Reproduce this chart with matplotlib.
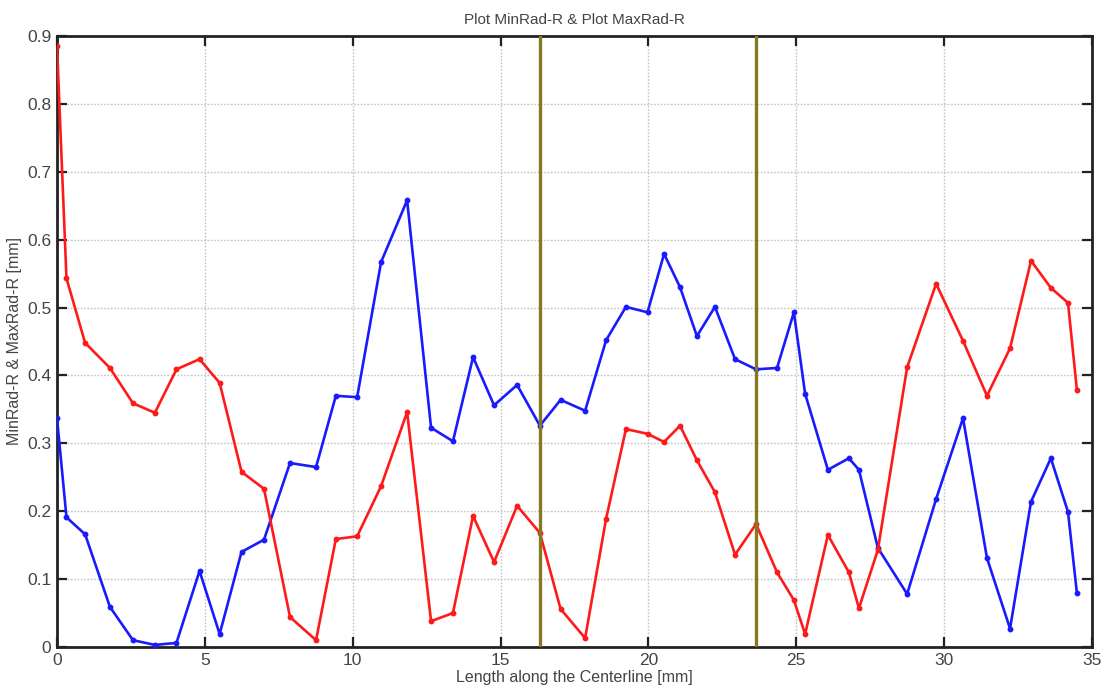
import matplotlib
matplotlib.use("Agg")
import matplotlib.pyplot as plt

plt.rcParams['font.family'] = ['Liberation Sans', 'DejaVu Sans']

# Position along the centerline [mm]
length_mm = [0.00, 0.32, 0.95, 1.79, 2.57, 3.31, 4.04, 4.82, 5.50, 6.24,
             7.00, 7.88, 8.76, 9.43, 10.15, 10.96, 11.84, 12.65, 13.39, 14.07,
             14.78, 15.56, 16.33, 17.03, 17.86, 18.57, 19.24, 19.97, 20.53, 21.07,
             21.64, 22.25, 22.93, 23.64, 24.35, 24.92, 25.30, 26.07, 26.78, 27.12,
             27.76, 28.75, 29.73, 30.64, 31.45, 32.23, 32.94, 33.61, 34.19, 34.49]

# Maximum radius (red)
max_rad = [0.885, 0.543, 0.448, 0.411, 0.359, 0.345, 0.409, 0.424, 0.389, 0.258,
           0.233, 0.044, 0.010, 0.159, 0.163, 0.237, 0.346, 0.038, 0.050, 0.193,
           0.125, 0.208, 0.168, 0.056, 0.013, 0.189, 0.321, 0.314, 0.302, 0.326,
           0.275, 0.228, 0.136, 0.181, 0.110, 0.069, 0.019, 0.165, 0.110, 0.057,
           0.143, 0.412, 0.535, 0.451, 0.370, 0.440, 0.569, 0.529, 0.507, 0.379]

# Minimum radius (blue)
min_rad = [0.337, 0.191, 0.166, 0.059, 0.010, 0.003, 0.006, 0.112, 0.019, 0.140,
           0.158, 0.271, 0.265, 0.370, 0.368, 0.567, 0.658, 0.323, 0.303, 0.427,
           0.356, 0.386, 0.326, 0.364, 0.348, 0.452, 0.501, 0.493, 0.579, 0.530,
           0.458, 0.501, 0.424, 0.409, 0.411, 0.493, 0.373, 0.261, 0.278, 0.261,
           0.146, 0.078, 0.218, 0.337, 0.131, 0.027, 0.214, 0.278, 0.199, 0.080]

# Section boundaries [mm]
boundaries = [16.33, 23.64]

x_ticks = [0, 5, 10, 15, 20, 25, 30, 35]
y_ticks = [0, 0.1, 0.2, 0.3, 0.4, 0.5, 0.6, 0.7, 0.8, 0.9]
y_tick_labels = ['0', '0.1', '0.2', '0.3', '0.4', '0.5', '0.6', '0.7', '0.8', '0.9']

text_color = '#444444'

fig = plt.figure(figsize=(11.07, 6.98), dpi=100)
ax = fig.add_axes([0.0515, 0.0731, 0.9349, 0.8753])

ax.plot(length_mm, min_rad, color='#1a1aff', lw=1.9, marker='o', ms=3.2, zorder=3)
ax.plot(length_mm, max_rad, color='#ff1a1a', lw=1.9, marker='o', ms=3.2, zorder=3)

for b in boundaries:
    ax.axvline(b, color='#857a1f', lw=2.4, zorder=4)

ax.set_xlim(0, 35)
ax.set_ylim(0, 0.9)
ax.set_xticks(x_ticks)
ax.set_yticks(y_ticks)
ax.set_yticklabels(y_tick_labels)

ax.grid(True, color='#c4c4c4', ls=(0, (1.2, 1.2)), lw=1.0)
ax.set_axisbelow(True)
ax.tick_params(direction='in', length=7, width=1.6, top=True, right=True,
               labelsize=12.5, labelcolor=text_color, color='#222222', pad=4)
for s in ax.spines.values():
    s.set_linewidth(2.0)
    s.set_color('#222222')

ax.set_title('Plot MinRad-R & Plot MaxRad-R', fontsize=11, color=text_color, pad=9)
ax.set_xlabel('Length along the Centerline [mm]', fontsize=11.5, color=text_color, labelpad=2)
ax.set_ylabel('MinRad-R & MaxRad-R [mm]', fontsize=11.5, color=text_color, labelpad=4)

fig.savefig('out.png', dpi=100)
